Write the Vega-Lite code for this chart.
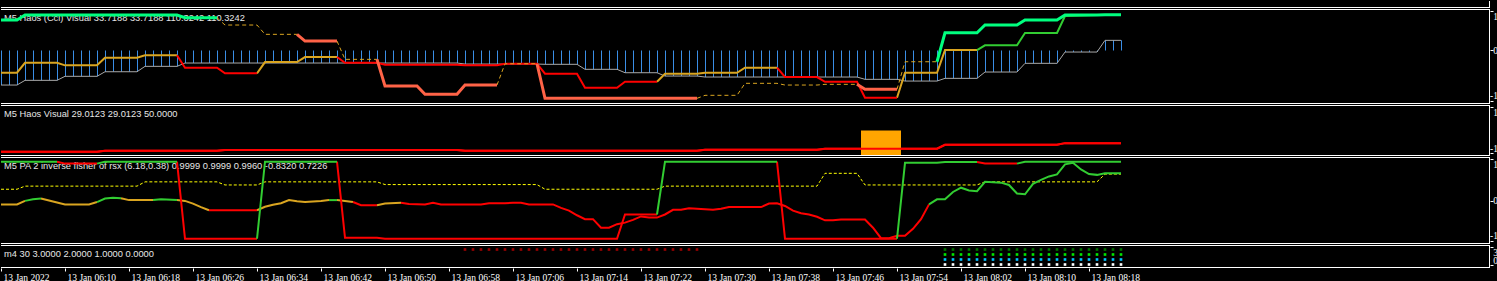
{
"$schema": "https://vega.github.io/schema/vega-lite/v6.json",
"background": "black",
"padding": 0,
"autosize": {"type": "pad"},
"spacing": 1,
"bounds": "flush",
"config": {"view": {"stroke": null}, "axis": {"grid": false, "domain": false, "labelColor": "white", "tickColor": "white", "labelFont": "Liberation Sans Narrow", "labelFontSize": 9.5}},
"resolve": {"scale": {"x": "independent", "y": "independent", "color": "independent"}},
"datasets": {
"p1bars": [
{"i":0,"v":-0.885},{"i":1,"v":-0.885},{"i":2,"v":-0.885},
{"i":3,"v":-0.765},{"i":4,"v":-0.765},{"i":5,"v":-0.765},{"i":6,"v":-0.765},{"i":7,"v":-0.765},
{"i":8,"v":-0.662},{"i":9,"v":-0.662},{"i":10,"v":-0.662},{"i":11,"v":-0.662},{"i":12,"v":-0.662},
{"i":13,"v":-0.545},{"i":14,"v":-0.545},{"i":15,"v":-0.545},{"i":16,"v":-0.545},{"i":17,"v":-0.545},
{"i":18,"v":-0.407},{"i":19,"v":-0.407},{"i":20,"v":-0.407},{"i":21,"v":-0.407},{"i":22,"v":-0.407},
{"i":23,"v":-0.322},{"i":24,"v":-0.322},{"i":25,"v":-0.322},{"i":26,"v":-0.322},{"i":27,"v":-0.322},
{"i":28,"v":-0.322},{"i":29,"v":-0.322},{"i":30,"v":-0.322},{"i":31,"v":-0.322},{"i":32,"v":-0.322},
{"i":33,"v":-0.322},{"i":34,"v":-0.322},{"i":35,"v":-0.322},{"i":36,"v":-0.322},{"i":37,"v":-0.322},
{"i":38,"v":-0.322},{"i":39,"v":-0.322},{"i":40,"v":-0.322},{"i":41,"v":-0.322},{"i":42,"v":-0.322},
{"i":43,"v":-0.322},{"i":44,"v":-0.322},{"i":45,"v":-0.322},{"i":46,"v":-0.322},{"i":47,"v":-0.322},
{"i":48,"v":-0.322},{"i":49,"v":-0.322},{"i":50,"v":-0.322},{"i":51,"v":-0.322},{"i":52,"v":-0.322},
{"i":53,"v":-0.322},{"i":54,"v":-0.322},{"i":55,"v":-0.322},{"i":56,"v":-0.322},{"i":57,"v":-0.322},
{"i":58,"v":-0.348},{"i":59,"v":-0.348},{"i":60,"v":-0.348},{"i":61,"v":-0.348},{"i":62,"v":-0.348},
{"i":63,"v":-0.348},{"i":64,"v":-0.348},{"i":65,"v":-0.348},{"i":66,"v":-0.348},{"i":67,"v":-0.348},
{"i":68,"v":-0.355},{"i":69,"v":-0.355},{"i":70,"v":-0.355},{"i":71,"v":-0.355},{"i":72,"v":-0.355},
{"i":73,"v":-0.483},{"i":74,"v":-0.483},{"i":75,"v":-0.483},{"i":76,"v":-0.483},{"i":77,"v":-0.483},
{"i":78,"v":-0.57},{"i":79,"v":-0.57},{"i":80,"v":-0.57},{"i":81,"v":-0.57},{"i":82,"v":-0.57},
{"i":83,"v":-0.655},{"i":84,"v":-0.655},{"i":85,"v":-0.655},{"i":86,"v":-0.655},{"i":87,"v":-0.655},
{"i":88,"v":-0.68},{"i":89,"v":-0.68},{"i":90,"v":-0.68},{"i":91,"v":-0.68},{"i":92,"v":-0.68},
{"i":93,"v":-0.68},{"i":94,"v":-0.68},{"i":95,"v":-0.68},{"i":96,"v":-0.68},{"i":97,"v":-0.68},
{"i":98,"v":-0.68},{"i":99,"v":-0.68},{"i":100,"v":-0.68},{"i":101,"v":-0.68},{"i":102,"v":-0.68},
{"i":103,"v":-0.68},{"i":104,"v":-0.68},{"i":105,"v":-0.68},{"i":106,"v":-0.68},{"i":107,"v":-0.68},
{"i":108,"v":-0.739},{"i":109,"v":-0.739},{"i":110,"v":-0.739},{"i":111,"v":-0.739},{"i":112,"v":-0.739},
{"i":113,"v":-0.783},{"i":114,"v":-0.783},{"i":115,"v":-0.783},{"i":116,"v":-0.783},{"i":117,"v":-0.783},
{"i":118,"v":-0.714},{"i":119,"v":-0.714},{"i":120,"v":-0.714},{"i":121,"v":-0.714},{"i":122,"v":-0.714},
{"i":123,"v":-0.552},{"i":124,"v":-0.552},{"i":125,"v":-0.552},{"i":126,"v":-0.552},{"i":127,"v":-0.552},
{"i":128,"v":-0.33},{"i":129,"v":-0.33},{"i":130,"v":-0.33},{"i":131,"v":-0.33},{"i":132,"v":-0.33},
{"i":133,"v":-0.041},{"i":134,"v":-0.041},{"i":135,"v":-0.041},{"i":136,"v":-0.041},{"i":137,"v":-0.041},
{"i":138,"v":0.258},{"i":139,"v":0.258},{"i":140,"v":0.258}
],
"p1thin": [
{"s":"T1","c":"neutral","i":0,"v":-0.57},{"s":"T1","c":"neutral","i":2,"v":-0.57},{"s":"T1","c":"neutral","i":3,"v":-0.315},{"s":"T1","c":"neutral","i":7,"v":-0.315},{"s":"T1","c":"neutral","i":8,"v":-0.381},{"s":"T1","c":"neutral","i":12,"v":-0.381},{"s":"T1","c":"neutral","i":13,"v":-0.187},{"s":"T1","c":"neutral","i":17,"v":-0.187},{"s":"T1","c":"neutral","i":18,"v":-0.125},{"s":"T1","c":"neutral","i":22,"v":-0.125},
{"s":"T2","c":"down","i":22,"v":-0.125},{"s":"T2","c":"down","i":23,"v":-0.442},{"s":"T2","c":"down","i":27,"v":-0.442},{"s":"T2","c":"down","i":28,"v":-0.586},{"s":"T2","c":"down","i":32,"v":-0.586},
{"s":"T3","c":"neutral","i":32,"v":-0.586},{"s":"T3","c":"neutral","i":33,"v":-0.297},{"s":"T3","c":"neutral","i":37,"v":-0.297},{"s":"T3","c":"neutral","i":38,"v":-0.169},{"s":"T3","c":"neutral","i":42,"v":-0.169},
{"s":"T4","c":"down","i":42,"v":-0.169},{"s":"T4","c":"down","i":43,"v":-0.315},{"s":"T4","c":"down","i":47,"v":-0.315},{"s":"T4","c":"down","i":48,"v":-0.366},{"s":"T4","c":"down","i":57,"v":-0.366},{"s":"T4","c":"down","i":58,"v":-0.381},{"s":"T4","c":"down","i":62,"v":-0.381},{"s":"T4","c":"down","i":63,"v":-0.34},{"s":"T4","c":"down","i":67,"v":-0.34},{"s":"T4","c":"down","i":68,"v":-0.596},{"s":"T4","c":"down","i":72,"v":-0.596},{"s":"T4","c":"down","i":73,"v":-0.954},{"s":"T4","c":"down","i":77,"v":-0.954},{"s":"T4","c":"down","i":78,"v":-0.801},{"s":"T4","c":"down","i":82,"v":-0.801},
{"s":"T5","c":"neutral","i":82,"v":-0.801},{"s":"T5","c":"neutral","i":83,"v":-0.596},{"s":"T5","c":"neutral","i":87,"v":-0.596},{"s":"T5","c":"neutral","i":88,"v":-0.57},{"s":"T5","c":"neutral","i":92,"v":-0.57},{"s":"T5","c":"neutral","i":93,"v":-0.442},{"s":"T5","c":"neutral","i":97,"v":-0.442},
{"s":"T6","c":"down","i":97,"v":-0.442},{"s":"T6","c":"down","i":98,"v":-0.68},{"s":"T6","c":"down","i":102,"v":-0.68},{"s":"T6","c":"down","i":103,"v":-0.801},{"s":"T6","c":"down","i":107,"v":-0.801},{"s":"T6","c":"down","i":108,"v":-1.21},{"s":"T6","c":"down","i":112,"v":-1.21},
{"s":"T7","c":"neutral","i":112,"v":-1.21},{"s":"T7","c":"neutral","i":113,"v":-0.57},{"s":"T7","c":"neutral","i":117,"v":-0.57},{"s":"T7","c":"neutral","i":118,"v":0.01},{"s":"T7","c":"neutral","i":122,"v":0.01},
{"s":"T8","c":"up","i":122,"v":0.01},{"s":"T8","c":"up","i":123,"v":0.13},{"s":"T8","c":"up","i":127,"v":0.13},{"s":"T8","c":"up","i":128,"v":0.445},{"s":"T8","c":"up","i":132,"v":0.445},{"s":"T8","c":"up","i":133,"v":0.88},{"s":"T8","c":"up","i":137,"v":0.905},{"s":"T8","c":"up","i":140,"v":0.905}
],
"p1thick": [
{"s":"K1","c":"up","i":0,"v":0.777},{"s":"K1","c":"up","i":2,"v":0.777},{"s":"K1","c":"up","i":3,"v":0.905},{"s":"K1","c":"up","i":22,"v":0.905},{"s":"K1","c":"up","i":23,"v":0.836},{"s":"K1","c":"up","i":27,"v":0.836},
{"s":"K2","c":"neutral","i":27,"v":0.836},{"s":"K2","c":"neutral","i":28,"v":0.65},{"s":"K2","c":"neutral","i":32,"v":0.65},{"s":"K2","c":"neutral","i":33,"v":0.412},{"s":"K2","c":"neutral","i":37,"v":0.412},
{"s":"K3","c":"down","i":37,"v":0.412},{"s":"K3","c":"down","i":38,"v":0.24},{"s":"K3","c":"down","i":42,"v":0.24},
{"s":"K4","c":"neutral","i":42,"v":0.24},{"s":"K4","c":"neutral","i":43,"v":-0.228},{"s":"K4","c":"neutral","i":47,"v":-0.228},
{"s":"K5","c":"down","i":47,"v":-0.228},{"s":"K5","c":"down","i":48,"v":-0.91},{"s":"K5","c":"down","i":52,"v":-0.91},{"s":"K5","c":"down","i":53,"v":-1.123},{"s":"K5","c":"down","i":57,"v":-1.123},{"s":"K5","c":"down","i":58,"v":-0.885},{"s":"K5","c":"down","i":62,"v":-0.885},
{"s":"K6","c":"neutral","i":62,"v":-0.885},{"s":"K6","c":"neutral","i":63,"v":-0.34},{"s":"K6","c":"neutral","i":67,"v":-0.34},
{"s":"K7","c":"down","i":67,"v":-0.34},{"s":"K7","c":"down","i":68,"v":-1.225},{"s":"K7","c":"down","i":87,"v":-1.225},
{"s":"K8","c":"neutral","i":87,"v":-1.225},{"s":"K8","c":"neutral","i":88,"v":-1.148},{"s":"K8","c":"neutral","i":92,"v":-1.148},{"s":"K8","c":"neutral","i":93,"v":-0.841},{"s":"K8","c":"neutral","i":97,"v":-0.841},{"s":"K8","c":"neutral","i":98,"v":-0.885},{"s":"K8","c":"neutral","i":102,"v":-0.885},{"s":"K8","c":"neutral","i":103,"v":-0.867},{"s":"K8","c":"neutral","i":107,"v":-0.867},
{"s":"K9","c":"down","i":107,"v":-0.867},{"s":"K9","c":"down","i":108,"v":-0.995},{"s":"K9","c":"down","i":112,"v":-0.995},
{"s":"K10","c":"neutral","i":112,"v":-0.995},{"s":"K10","c":"neutral","i":113,"v":-0.289},{"s":"K10","c":"neutral","i":117,"v":-0.289},
{"s":"K11","c":"up","i":117,"v":-0.289},{"s":"K11","c":"up","i":118,"v":0.453},{"s":"K11","c":"up","i":122,"v":0.453},{"s":"K11","c":"up","i":123,"v":0.65},{"s":"K11","c":"up","i":127,"v":0.65},{"s":"K11","c":"up","i":128,"v":0.777},{"s":"K11","c":"up","i":132,"v":0.777},{"s":"K11","c":"up","i":133,"v":0.905},{"s":"K11","c":"up","i":137,"v":0.905},{"s":"K11","c":"up","i":138,"v":0.913},{"s":"K11","c":"up","i":140,"v":0.913}
],
"p2red": [
{"i":0,"v":-0.92},{"i":12,"v":-0.92},{"i":13,"v":-0.88},{"i":27,"v":-0.88},{"i":28,"v":-0.85},{"i":57,"v":-0.85},{"i":58,"v":-0.88},{"i":87,"v":-0.88},{"i":88,"v":-0.84},{"i":102,"v":-0.84},{"i":103,"v":-0.79},{"i":117,"v":-0.79},{"i":118,"v":-0.62},{"i":132,"v":-0.62},{"i":133,"v":-0.55},{"i":140,"v":-0.55}
],
"p2hist": [
{"i":108,"v":-1.11},{"i":109,"v":-1.11},{"i":110,"v":-1.11},{"i":111,"v":-1.11},{"i":112,"v":-1.11}
],
"p3yel": [
{"i":0,"v":0.29},{"i":2,"v":0.29},{"i":3,"v":0.37},{"i":17,"v":0.37},{"i":18,"v":0.48},{"i":27,"v":0.48},{"i":28,"v":0.4},{"i":32,"v":0.4},{"i":33,"v":0.48},{"i":47,"v":0.48},{"i":48,"v":0.41},{"i":67,"v":0.41},{"i":68,"v":0.29},{"i":82,"v":0.29},{"i":83,"v":0.37},{"i":102,"v":0.37},{"i":103,"v":0.7},{"i":107,"v":0.7},{"i":108,"v":0.4},{"i":122,"v":0.4},{"i":123,"v":0.48},{"i":137,"v":0.48},{"i":138,"v":0.68},{"i":140,"v":0.68}
],
"p3sig": [
{"s":"S1","c":"up","i":0,"v":1.0},{"s":"S1","c":"up","i":7,"v":1.0},
{"s":"S2","c":"down","i":7,"v":1.0},{"s":"S2","c":"down","i":8,"v":0.95},{"s":"S2","c":"down","i":12,"v":0.95},
{"s":"S3","c":"up","i":12,"v":0.95},{"s":"S3","c":"up","i":13,"v":1.0},{"s":"S3","c":"up","i":22,"v":1.0},
{"s":"S4","c":"down","i":22,"v":1.0},{"s":"S4","c":"down","i":23,"v":-0.985},{"s":"S4","c":"down","i":32,"v":-0.985},
{"s":"S5","c":"up","i":32,"v":-0.985},{"s":"S5","c":"up","i":33,"v":1.0},{"s":"S5","c":"up","i":42,"v":1.0},
{"s":"S6","c":"down","i":42,"v":1.0},{"s":"S6","c":"down","i":43,"v":-0.96},{"s":"S6","c":"down","i":47,"v":-0.96},{"s":"S6","c":"down","i":48,"v":-0.985},{"s":"S6","c":"down","i":77,"v":-0.985},{"s":"S6","c":"down","i":78,"v":-0.36},{"s":"S6","c":"down","i":82,"v":-0.36},
{"s":"S7","c":"up","i":82,"v":-0.36},{"s":"S7","c":"up","i":83,"v":1.0},{"s":"S7","c":"up","i":97,"v":1.0},
{"s":"S8","c":"down","i":97,"v":1.0},{"s":"S8","c":"down","i":98,"v":-0.985},{"s":"S8","c":"down","i":112,"v":-0.985},
{"s":"S9","c":"up","i":112,"v":-0.985},{"s":"S9","c":"up","i":113,"v":0.97},{"s":"S9","c":"up","i":117,"v":0.97},{"s":"S9","c":"up","i":118,"v":0.99},{"s":"S9","c":"up","i":122,"v":0.99},
{"s":"S10","c":"down","i":122,"v":0.99},{"s":"S10","c":"down","i":123,"v":0.95},{"s":"S10","c":"down","i":127,"v":0.95},
{"s":"S11","c":"up","i":127,"v":0.95},{"s":"S11","c":"up","i":128,"v":1.0},{"s":"S11","c":"up","i":140,"v":1.0}
],
"p3osc": [
{"s":"A","c":"neutral","i":0,"v":-0.1},{"s":"A","c":"neutral","i":2,"v":-0.1},{"s":"A","c":"neutral","i":3,"v":-0.01},
{"s":"B","c":"up","i":3,"v":-0.01},{"s":"B","c":"up","i":4,"v":0.03},{"s":"B","c":"up","i":5,"v":0.05},
{"s":"C","c":"neutral","i":5,"v":0.05},{"s":"C","c":"neutral","i":6,"v":0.0},{"s":"C","c":"neutral","i":8,"v":-0.1},{"s":"C","c":"neutral","i":11,"v":-0.1},{"s":"C","c":"neutral","i":12,"v":-0.04},
{"s":"D","c":"up","i":12,"v":-0.04},{"s":"D","c":"up","i":13,"v":0.05},{"s":"D","c":"up","i":14,"v":0.07},{"s":"D","c":"up","i":15,"v":0.06},
{"s":"E","c":"neutral","i":15,"v":0.06},{"s":"E","c":"neutral","i":16,"v":0.01},{"s":"E","c":"neutral","i":19,"v":0.01},
{"s":"F","c":"up","i":19,"v":0.01},{"s":"F","c":"up","i":20,"v":0.03},{"s":"F","c":"up","i":22,"v":0.01},
{"s":"G","c":"neutral","i":22,"v":0.01},{"s":"G","c":"neutral","i":23,"v":-0.01},{"s":"G","c":"neutral","i":24,"v":-0.08},{"s":"G","c":"neutral","i":25,"v":-0.17},{"s":"G","c":"neutral","i":26,"v":-0.25},
{"s":"H","c":"down","i":26,"v":-0.25},{"s":"H","c":"down","i":32,"v":-0.25},
{"s":"I","c":"neutral","i":32,"v":-0.25},{"s":"I","c":"neutral","i":33,"v":-0.16},{"s":"I","c":"neutral","i":34,"v":-0.11},{"s":"I","c":"neutral","i":35,"v":-0.07},{"s":"I","c":"neutral","i":36,"v":0.01},{"s":"I","c":"neutral","i":37,"v":-0.02},{"s":"I","c":"neutral","i":38,"v":-0.04},{"s":"I","c":"neutral","i":40,"v":-0.01},{"s":"I","c":"neutral","i":41,"v":0.01},
{"s":"J","c":"up","i":41,"v":0.01},{"s":"J","c":"up","i":42,"v":0.01},
{"s":"K","c":"neutral","i":42,"v":0.01},{"s":"K","c":"neutral","i":43,"v":-0.01},{"s":"K","c":"neutral","i":44,"v":-0.04},
{"s":"L","c":"down","i":44,"v":-0.04},{"s":"L","c":"down","i":45,"v":-0.12},{"s":"L","c":"down","i":47,"v":-0.12},
{"s":"M","c":"neutral","i":47,"v":-0.12},{"s":"M","c":"neutral","i":48,"v":-0.08},{"s":"M","c":"neutral","i":50,"v":-0.06},
{"s":"N","c":"down","i":50,"v":-0.06},{"s":"N","c":"down","i":51,"v":-0.09},{"s":"N","c":"down","i":53,"v":-0.1},{"s":"N","c":"down","i":54,"v":-0.06},{"s":"N","c":"down","i":55,"v":-0.1},{"s":"N","c":"down","i":60,"v":-0.1},{"s":"N","c":"down","i":61,"v":-0.07},{"s":"N","c":"down","i":63,"v":-0.07},{"s":"N","c":"down","i":64,"v":-0.06},{"s":"N","c":"down","i":65,"v":-0.06},{"s":"N","c":"down","i":66,"v":-0.1},{"s":"N","c":"down","i":69,"v":-0.1},{"s":"N","c":"down","i":70,"v":-0.19},{"s":"N","c":"down","i":71,"v":-0.26},{"s":"N","c":"down","i":72,"v":-0.38},{"s":"N","c":"down","i":73,"v":-0.48},{"s":"N","c":"down","i":74,"v":-0.48},{"s":"N","c":"down","i":75,"v":-0.7},{"s":"N","c":"down","i":76,"v":-0.7},{"s":"N","c":"down","i":77,"v":-0.61},{"s":"N","c":"down","i":78,"v":-0.57},{"s":"N","c":"down","i":79,"v":-0.5},{"s":"N","c":"down","i":80,"v":-0.41},{"s":"N","c":"down","i":81,"v":-0.44},{"s":"N","c":"down","i":82,"v":-0.44},{"s":"N","c":"down","i":83,"v":-0.36},{"s":"N","c":"down","i":84,"v":-0.24},{"s":"N","c":"down","i":85,"v":-0.24},{"s":"N","c":"down","i":86,"v":-0.2},{"s":"N","c":"down","i":87,"v":-0.21},{"s":"N","c":"down","i":89,"v":-0.24},{"s":"N","c":"down","i":90,"v":-0.21},{"s":"N","c":"down","i":91,"v":-0.17},{"s":"N","c":"down","i":95,"v":-0.17},{"s":"N","c":"down","i":96,"v":-0.08},{"s":"N","c":"down","i":97,"v":-0.07},{"s":"N","c":"down","i":98,"v":-0.14},{"s":"N","c":"down","i":99,"v":-0.26},{"s":"N","c":"down","i":100,"v":-0.33},{"s":"N","c":"down","i":101,"v":-0.36},{"s":"N","c":"down","i":102,"v":-0.42},{"s":"N","c":"down","i":103,"v":-0.51},{"s":"N","c":"down","i":104,"v":-0.51},{"s":"N","c":"down","i":105,"v":-0.49},{"s":"N","c":"down","i":108,"v":-0.49},{"s":"N","c":"down","i":109,"v":-0.7},{"s":"N","c":"down","i":110,"v":-0.97},{"s":"N","c":"down","i":111,"v":-0.97},{"s":"N","c":"down","i":112,"v":-0.91},{"s":"N","c":"down","i":113,"v":-0.91},{"s":"N","c":"down","i":114,"v":-0.73},{"s":"N","c":"down","i":115,"v":-0.48},{"s":"N","c":"down","i":116,"v":-0.1},
{"s":"O","c":"up","i":116,"v":-0.1},{"s":"O","c":"up","i":117,"v":0.03},{"s":"O","c":"up","i":118,"v":0.03},{"s":"O","c":"up","i":119,"v":0.22},{"s":"O","c":"up","i":120,"v":0.33},{"s":"O","c":"up","i":121,"v":0.26},{"s":"O","c":"up","i":122,"v":0.24},{"s":"O","c":"up","i":123,"v":0.48},{"s":"O","c":"up","i":125,"v":0.46},{"s":"O","c":"up","i":126,"v":0.4},{"s":"O","c":"up","i":127,"v":0.18},{"s":"O","c":"up","i":128,"v":0.16},{"s":"O","c":"up","i":129,"v":0.43},{"s":"O","c":"up","i":130,"v":0.53},{"s":"O","c":"up","i":131,"v":0.62},{"s":"O","c":"up","i":132,"v":0.67},{"s":"O","c":"up","i":133,"v":0.93},{"s":"O","c":"up","i":134,"v":0.97},{"s":"O","c":"up","i":135,"v":0.8},{"s":"O","c":"up","i":136,"v":0.68},{"s":"O","c":"up","i":137,"v":0.66},{"s":"O","c":"up","i":138,"v":0.7},{"s":"O","c":"up","i":140,"v":0.7}
],
"p4": [
{"k":"s3","i":58,"v":3},{"k":"s3","i":59,"v":3},{"k":"s3","i":60,"v":3},{"k":"s3","i":61,"v":3},{"k":"s3","i":62,"v":3},{"k":"s3","i":63,"v":3},{"k":"s3","i":64,"v":3},{"k":"s3","i":65,"v":3},{"k":"s3","i":66,"v":3},{"k":"s3","i":67,"v":3},{"k":"s3","i":68,"v":3},{"k":"s3","i":69,"v":3},{"k":"s3","i":70,"v":3},{"k":"s3","i":71,"v":3},{"k":"s3","i":72,"v":3},{"k":"s3","i":73,"v":3},{"k":"s3","i":74,"v":3},{"k":"s3","i":75,"v":3},{"k":"s3","i":76,"v":3},{"k":"s3","i":77,"v":3},{"k":"s3","i":78,"v":3},{"k":"s3","i":79,"v":3},{"k":"s3","i":80,"v":3},{"k":"s3","i":81,"v":3},{"k":"s3","i":82,"v":3},{"k":"s3","i":83,"v":3},{"k":"s3","i":84,"v":3},{"k":"s3","i":85,"v":3},{"k":"s3","i":86,"v":3},{"k":"s3","i":87,"v":3},
{"k":"b3","i":118,"v":3},{"k":"b3","i":119,"v":3},{"k":"b3","i":120,"v":3},{"k":"b3","i":121,"v":3},{"k":"b3","i":122,"v":3},{"k":"b3","i":123,"v":3},{"k":"b3","i":124,"v":3},{"k":"b3","i":125,"v":3},{"k":"b3","i":126,"v":3},{"k":"b3","i":127,"v":3},{"k":"b3","i":128,"v":3},{"k":"b3","i":129,"v":3},{"k":"b3","i":130,"v":3},{"k":"b3","i":131,"v":3},{"k":"b3","i":132,"v":3},{"k":"b3","i":133,"v":3},{"k":"b3","i":134,"v":3},{"k":"b3","i":135,"v":3},{"k":"b3","i":136,"v":3},{"k":"b3","i":137,"v":3},{"k":"b3","i":138,"v":3},{"k":"b3","i":139,"v":3},{"k":"b3","i":140,"v":3},
{"k":"b2","i":118,"v":2},{"k":"b2","i":119,"v":2},{"k":"b2","i":120,"v":2},{"k":"b2","i":121,"v":2},{"k":"b2","i":122,"v":2},{"k":"b2","i":123,"v":2},{"k":"b2","i":124,"v":2},{"k":"b2","i":125,"v":2},{"k":"b2","i":126,"v":2},{"k":"b2","i":127,"v":2},{"k":"b2","i":128,"v":2},{"k":"b2","i":129,"v":2},{"k":"b2","i":130,"v":2},{"k":"b2","i":131,"v":2},{"k":"b2","i":132,"v":2},{"k":"b2","i":133,"v":2},{"k":"b2","i":134,"v":2},{"k":"b2","i":135,"v":2},{"k":"b2","i":136,"v":2},{"k":"b2","i":137,"v":2},{"k":"b2","i":138,"v":2},{"k":"b2","i":139,"v":2},{"k":"b2","i":140,"v":2},
{"k":"b1","i":118,"v":1},{"k":"b1","i":119,"v":1},{"k":"b1","i":120,"v":1},{"k":"b1","i":121,"v":1},{"k":"b1","i":122,"v":1},{"k":"b1","i":123,"v":1},{"k":"b1","i":124,"v":1},{"k":"b1","i":125,"v":1},{"k":"b1","i":126,"v":1},{"k":"b1","i":127,"v":1},{"k":"b1","i":128,"v":1},{"k":"b1","i":129,"v":1},{"k":"b1","i":130,"v":1},{"k":"b1","i":131,"v":1},{"k":"b1","i":132,"v":1},{"k":"b1","i":133,"v":1},{"k":"b1","i":134,"v":1},{"k":"b1","i":135,"v":1},{"k":"b1","i":136,"v":1},{"k":"b1","i":137,"v":1},{"k":"b1","i":138,"v":1},{"k":"b1","i":139,"v":1},{"k":"b1","i":140,"v":1},
{"k":"b0","i":118,"v":0},{"k":"b0","i":119,"v":0},{"k":"b0","i":120,"v":0},{"k":"b0","i":121,"v":0},{"k":"b0","i":122,"v":0},{"k":"b0","i":123,"v":0},{"k":"b0","i":124,"v":0},{"k":"b0","i":125,"v":0},{"k":"b0","i":126,"v":0},{"k":"b0","i":127,"v":0},{"k":"b0","i":128,"v":0},{"k":"b0","i":129,"v":0},{"k":"b0","i":130,"v":0},{"k":"b0","i":131,"v":0},{"k":"b0","i":132,"v":0},{"k":"b0","i":133,"v":0},{"k":"b0","i":134,"v":0},{"k":"b0","i":135,"v":0},{"k":"b0","i":136,"v":0},{"k":"b0","i":137,"v":0},{"k":"b0","i":138,"v":0},{"k":"b0","i":139,"v":0},{"k":"b0","i":140,"v":0}
]
},
"vconcat": [
{
"width": 1489, "height": 7,
"data": {"values": [{}]},
"layer": [
{"mark": {"type": "rule", "color": "white", "yOffset": -0.5}, "encoding": {"y": {"datum": 0, "type": "quantitative", "scale": {"domain": [0, 1]}, "axis": null}}},
{"mark": {"type": "rule", "color": "white", "xOffset": -0.5}, "encoding": {"x": {"datum": 186.125, "type": "quantitative", "scale": {"domain": [0, 186.125], "nice": false, "zero": false}, "axis": null}}}
]
},
{
"width": 1489, "height": 95,
"layer": [
{"data": {"name": "p1bars"}, "mark": {"type": "bar", "width": 1, "fill": "#3a8ee6", "color": "#3a8ee6", "xOffset": 0.5, "clip": true},
 "encoding": {"x": {"field": "i", "type": "quantitative", "scale": {"domain": [0, 186.125], "nice": false, "zero": false, "padding": 0}, "axis": null, "title": null},
  "y": {"field": "v", "type": "quantitative", "scale": {"domain": [-1.37, 1.06], "nice": false, "zero": false, "padding": 0}, "title": null,
   "axis": {"orient": "right", "values": [1, 0, -1.29], "labelExpr": "datum.value > 0.5 ? '1' : (datum.value < -0.5 ? '-1' : '0')", "labelAlign": "right", "labelBaseline": {"condition": [{"test": "datum.value > 0.5", "value": "top"}, {"test": "datum.value < -0.5", "value": "bottom"}], "value": "middle"}, "tickSize": 3, "labelPadding": 4.5, "labelOverlap": false, "labelFlush": false, "title": null}},
  "y2": {"datum": 0}}},
{"data": {"values": [{"t": "M5 Haos (Cci) Visual 33.7188 33.7188 110.3242 110.3242"}]}, "mark": {"type": "text", "align": "left", "baseline": "middle", "dx": 3, "dy": 9, "color": "#e6e6e6", "font": "Liberation Sans", "fontSize": 9.3},
 "encoding": {"x": {"datum": 0, "type": "quantitative", "axis": null}, "y": {"datum": 1.06, "type": "quantitative", "title": null}, "text": {"field": "t", "type": "nominal"}}},
{"data": {"name": "p1bars"}, "mark": {"type": "line", "color": "#a8a8a8", "strokeWidth": 1, "clip": true},
 "encoding": {"x": {"field": "i", "type": "quantitative", "axis": null}, "y": {"field": "v", "type": "quantitative", "title": null}}},
{"data": {"name": "p1thin"}, "transform": [{"filter": "datum.c == 'neutral'"}], "mark": {"type": "line", "color": "#daa520", "strokeWidth": 2, "clip": true},
 "encoding": {"x": {"field": "i", "type": "quantitative", "axis": null}, "y": {"field": "v", "type": "quantitative", "title": null}, "detail": {"field": "s"}}},
{"data": {"name": "p1thin"}, "transform": [{"filter": "datum.c == 'down'"}], "mark": {"type": "line", "color": "#ff0000", "strokeWidth": 2, "clip": true},
 "encoding": {"x": {"field": "i", "type": "quantitative", "axis": null}, "y": {"field": "v", "type": "quantitative", "title": null}, "detail": {"field": "s"}}},
{"data": {"name": "p1thin"}, "transform": [{"filter": "datum.c == 'up'"}], "mark": {"type": "line", "color": "#32cd32", "strokeWidth": 2, "clip": true},
 "encoding": {"x": {"field": "i", "type": "quantitative", "axis": null}, "y": {"field": "v", "type": "quantitative", "title": null}, "detail": {"field": "s"}}},
{"data": {"name": "p1thick"}, "transform": [{"filter": "datum.c == 'neutral'"}], "mark": {"type": "line", "color": "#daa520", "strokeWidth": 1, "strokeDash": [4, 3], "clip": true},
 "encoding": {"x": {"field": "i", "type": "quantitative", "axis": null}, "y": {"field": "v", "type": "quantitative", "title": null}, "detail": {"field": "s"}}},
{"data": {"name": "p1thick"}, "transform": [{"filter": "datum.c == 'down'"}], "mark": {"type": "line", "color": "#ff6347", "strokeWidth": 3, "clip": true},
 "encoding": {"x": {"field": "i", "type": "quantitative", "axis": null}, "y": {"field": "v", "type": "quantitative", "title": null}, "detail": {"field": "s"}}},
{"data": {"name": "p1thick"}, "transform": [{"filter": "datum.c == 'up'"}], "mark": {"type": "line", "color": "#00ff7f", "strokeWidth": 3, "clip": true},
 "encoding": {"x": {"field": "i", "type": "quantitative", "axis": null}, "y": {"field": "v", "type": "quantitative", "title": null}, "detail": {"field": "s"}}},
{"data": {"values": [{}]}, "mark": {"type": "rule", "color": "white", "yOffset": 0.5}, "encoding": {"x": {"datum": 0, "type": "quantitative", "axis": null}, "x2": {"datum": 186.125}, "y": {"datum": 1.06, "type": "quantitative", "title": null}}},
{"data": {"values": [{}]}, "mark": {"type": "rule", "color": "white", "yOffset": -0.5}, "encoding": {"x": {"datum": 0, "type": "quantitative", "axis": null}, "x2": {"datum": 186.125}, "y": {"datum": -1.37, "type": "quantitative", "title": null}}},
{"data": {"values": [{}]}, "mark": {"type": "rule", "color": "white", "xOffset": -0.5}, "encoding": {"x": {"datum": 186.125, "type": "quantitative", "axis": null}, "y": {"datum": -1.37, "type": "quantitative", "title": null}, "y2": {"datum": 1.06}}}
]
},
{
"width": 1489, "height": 51,
"layer": [
{"data": {"name": "p2red"}, "mark": {"type": "line", "color": "#ff0000", "strokeWidth": 2, "clip": true},
 "encoding": {"x": {"field": "i", "type": "quantitative", "scale": {"domain": [0, 186.125], "nice": false, "zero": false, "padding": 0}, "axis": null, "title": null},
  "y": {"field": "v", "type": "quantitative", "scale": {"domain": [-1.11, 1.11], "nice": false, "zero": false, "padding": 0}, "title": null,
   "axis": {"orient": "right", "values": [1.02, 0, -0.98], "labelExpr": "datum.value > 0.5 ? '1' : (datum.value < -0.5 ? '-1' : '0')", "labelAlign": "right", "labelBaseline": {"condition": [{"test": "datum.value > 0.5", "value": "top"}, {"test": "datum.value < -0.5", "value": "bottom"}], "value": "middle"}, "tickSize": 3, "labelPadding": 4.5, "labelOverlap": false, "labelFlush": false, "title": null}}}},
{"data": {"values": [{"t": "M5 Haos Visual 29.0123 29.0123 50.0000"}]}, "mark": {"type": "text", "align": "left", "baseline": "middle", "dx": 3, "dy": 9, "color": "#e6e6e6", "font": "Liberation Sans", "fontSize": 9.3},
 "encoding": {"x": {"datum": 0, "type": "quantitative", "axis": null}, "y": {"datum": 1.11, "type": "quantitative", "title": null}, "text": {"field": "t", "type": "nominal"}}},
{"data": {"name": "p2hist"}, "mark": {"type": "bar", "width": 8, "color": "#ffa500", "clip": true},
 "encoding": {"x": {"field": "i", "type": "quantitative", "axis": null}, "y": {"field": "v", "type": "quantitative", "title": null}, "y2": {"datum": 0}}},
{"data": {"name": "p2red"}, "mark": {"type": "line", "color": "#ff0000", "strokeWidth": 2, "clip": true},
 "encoding": {"x": {"field": "i", "type": "quantitative", "axis": null}, "y": {"field": "v", "type": "quantitative", "title": null}}},
{"data": {"values": [{}]}, "mark": {"type": "rule", "color": "white", "yOffset": 0.5}, "encoding": {"x": {"datum": 0, "type": "quantitative", "axis": null}, "x2": {"datum": 186.125}, "y": {"datum": 1.11, "type": "quantitative", "title": null}}},
{"data": {"values": [{}]}, "mark": {"type": "rule", "color": "white", "yOffset": -0.5}, "encoding": {"x": {"datum": 0, "type": "quantitative", "axis": null}, "x2": {"datum": 186.125}, "y": {"datum": -1.11, "type": "quantitative", "title": null}}},
{"data": {"values": [{}]}, "mark": {"type": "rule", "color": "white", "xOffset": -0.5}, "encoding": {"x": {"datum": 186.125, "type": "quantitative", "axis": null}, "y": {"datum": -1.11, "type": "quantitative", "title": null}, "y2": {"datum": 1.11}}}
]
},
{
"width": 1489, "height": 87,
"layer": [
{"data": {"name": "p3yel"}, "mark": {"type": "line", "color": "#ffff00", "strokeWidth": 1, "strokeDash": [3, 2], "clip": true},
 "encoding": {"x": {"field": "i", "type": "quantitative", "scale": {"domain": [0, 186.125], "nice": false, "zero": false}, "axis": null, "title": null},
  "y": {"field": "v", "type": "quantitative", "scale": {"domain": [-1.12, 1.12], "nice": false, "zero": false}, "title": null,
   "axis": {"orient": "right", "values": [1.06, 0, -1.04], "labelExpr": "datum.value > 0.5 ? '1' : (datum.value < -0.5 ? '-1' : '0')", "labelAlign": "right", "labelBaseline": {"condition": [{"test": "datum.value > 0.5", "value": "top"}, {"test": "datum.value < -0.5", "value": "bottom"}], "value": "middle"}, "tickSize": 3, "labelPadding": 4.5, "labelOverlap": false, "labelFlush": false, "title": null}}}},
{"data": {"values": [{"t": "M5 PA 2 inverse fisher of rsx (6.18,0.38) 0.9999 0.9999 0.9960 -0.8320 0.7226"}]}, "mark": {"type": "text", "align": "left", "baseline": "middle", "dx": 3, "dy": 9, "color": "#e6e6e6", "font": "Liberation Sans", "fontSize": 9.3},
 "encoding": {"x": {"datum": 0, "type": "quantitative", "axis": null}, "y": {"datum": 1.12, "type": "quantitative", "title": null}, "text": {"field": "t", "type": "nominal"}}},
{"data": {"name": "p3osc"}, "transform": [{"filter": "datum.c == 'neutral'"}], "mark": {"type": "line", "color": "#daa520", "strokeWidth": 2, "clip": true},
 "encoding": {"x": {"field": "i", "type": "quantitative", "axis": null}, "y": {"field": "v", "type": "quantitative", "title": null}, "detail": {"field": "s"}}},
{"data": {"name": "p3osc"}, "transform": [{"filter": "datum.c == 'down'"}], "mark": {"type": "line", "color": "#ff0000", "strokeWidth": 2, "clip": true},
 "encoding": {"x": {"field": "i", "type": "quantitative", "axis": null}, "y": {"field": "v", "type": "quantitative", "title": null}, "detail": {"field": "s"}}},
{"data": {"name": "p3osc"}, "transform": [{"filter": "datum.c == 'up'"}], "mark": {"type": "line", "color": "#32cd32", "strokeWidth": 2, "clip": true},
 "encoding": {"x": {"field": "i", "type": "quantitative", "axis": null}, "y": {"field": "v", "type": "quantitative", "title": null}, "detail": {"field": "s"}}},
{"data": {"name": "p3sig"}, "transform": [{"filter": "datum.c == 'down'"}], "mark": {"type": "line", "color": "#ff0000", "strokeWidth": 2, "clip": true},
 "encoding": {"x": {"field": "i", "type": "quantitative", "axis": null}, "y": {"field": "v", "type": "quantitative", "title": null}, "detail": {"field": "s"}}},
{"data": {"name": "p3sig"}, "transform": [{"filter": "datum.c == 'up'"}], "mark": {"type": "line", "color": "#32cd32", "strokeWidth": 2, "clip": true},
 "encoding": {"x": {"field": "i", "type": "quantitative", "axis": null}, "y": {"field": "v", "type": "quantitative", "title": null}, "detail": {"field": "s"}}},
{"data": {"values": [{}]}, "mark": {"type": "rule", "color": "white", "yOffset": 0.5}, "encoding": {"x": {"datum": 0, "type": "quantitative", "axis": null}, "x2": {"datum": 186.125}, "y": {"datum": 1.12, "type": "quantitative", "title": null}}},
{"data": {"values": [{}]}, "mark": {"type": "rule", "color": "white", "yOffset": -0.5}, "encoding": {"x": {"datum": 0, "type": "quantitative", "axis": null}, "x2": {"datum": 186.125}, "y": {"datum": -1.12, "type": "quantitative", "title": null}}},
{"data": {"values": [{}]}, "mark": {"type": "rule", "color": "white", "xOffset": -0.5}, "encoding": {"x": {"datum": 186.125, "type": "quantitative", "axis": null}, "y": {"datum": -1.12, "type": "quantitative", "title": null}, "y2": {"datum": 1.12}}}
]
},
{
"width": 1489, "height": 23,
"layer": [
{"data": {"name": "p4"}, "mark": {"type": "square", "size": 7, "opacity": 1, "filled": true},
 "encoding": {"x": {"field": "i", "type": "quantitative", "scale": {"domain": [0, 186.125], "nice": false, "zero": false}, "title": null,
   "axis": {"orient": "bottom", "values": [0, 8, 16, 24, 32, 40, 48, 56, 64, 72, 80, 88, 96, 104, 112, 120, 128, 136], "labelExpr": "datum.value == 0 ? '13 Jan 2022' : '13 Jan ' + format(floor((362 + datum.value) / 60), '02d') + ':' + format((362 + datum.value) % 60, '02d')", "labelAlign": "left", "labelBaseline": "top", "labelOffset": 2, "labelPadding": 1, "tickSize": 3, "labelOverlap": false, "labelFlush": false, "title": null}},
  "y": {"field": "v", "type": "quantitative", "scale": {"domain": [-0.7, 3.9], "nice": false, "zero": false}, "title": null,
   "axis": {"orient": "right", "values": [3.5, -0.1], "labelExpr": "datum.value > 1 ? '3' : '0'", "labelAlign": "right", "labelBaseline": {"condition": {"test": "datum.value > 1", "value": "top"}, "value": "bottom"}, "tickSize": 3, "labelPadding": 4.5, "labelOverlap": false, "labelFlush": false, "title": null}},
  "color": {"field": "k", "type": "nominal", "scale": {"domain": ["s3", "b3", "b2", "b1", "b0"], "range": ["#9a0000", "#006e00", "#00e600", "#00bfff", "#ffffff"]}, "legend": null}}},
{"data": {"values": [{"t": "m4 30 3.0000 2.0000 1.0000 0.0000"}]}, "mark": {"type": "text", "align": "left", "baseline": "middle", "dx": 3, "dy": 9, "color": "#e6e6e6", "font": "Liberation Sans", "fontSize": 9.3},
 "encoding": {"x": {"datum": 0, "type": "quantitative", "title": null}, "y": {"datum": 3.9, "type": "quantitative", "title": null}, "text": {"field": "t", "type": "nominal"}}},
{"data": {"values": [{}]}, "mark": {"type": "rule", "color": "white", "yOffset": 0.5}, "encoding": {"x": {"datum": 0, "type": "quantitative", "title": null}, "x2": {"datum": 186.125}, "y": {"datum": 3.9, "type": "quantitative", "title": null}}},
{"data": {"values": [{}]}, "mark": {"type": "rule", "color": "white", "yOffset": -0.5}, "encoding": {"x": {"datum": 0, "type": "quantitative", "title": null}, "x2": {"datum": 186.125}, "y": {"datum": -0.7, "type": "quantitative", "title": null}}},
{"data": {"values": [{}]}, "mark": {"type": "rule", "color": "white", "xOffset": -0.5}, "encoding": {"x": {"datum": 186.125, "type": "quantitative", "title": null}, "y": {"datum": -0.7, "type": "quantitative", "title": null}, "y2": {"datum": 3.9}}}
]
}
]
}
